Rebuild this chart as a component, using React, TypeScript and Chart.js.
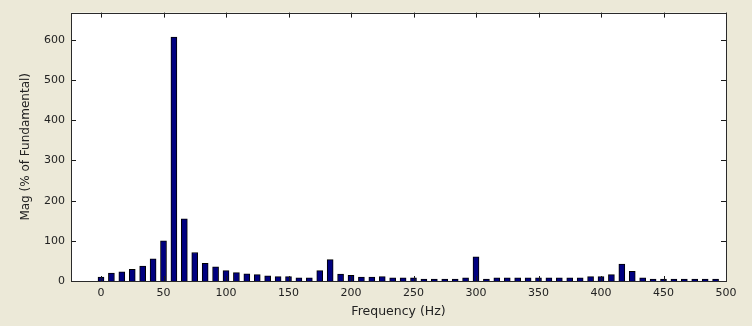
import React, { useEffect, useRef } from "react";
import { Chart, registerables } from "chart.js";

Chart.register(...registerables);

const frequencies: number[] = [
  0, 8.33, 16.67, 25, 33.33, 41.67, 50, 58.33, 66.67, 75,
  83.33, 91.67, 100, 108.33, 116.67, 125, 133.33, 141.67, 150, 158.33,
  166.67, 175, 183.33, 191.67, 200, 208.33, 216.67, 225, 233.33, 241.67,
  250, 258.33, 266.67, 275, 283.33, 291.67, 300, 308.33, 316.67, 325,
  333.33, 341.67, 350, 358.33, 366.67, 375, 383.33, 391.67, 400, 408.33,
  416.67, 425, 433.33, 441.67, 450, 458.33, 466.67, 475, 483.33, 491.67,
];

const magnitudes: number[] = [
  10, 20, 23, 29, 37, 55, 100, 607, 155, 71,
  44, 35, 26, 21, 18, 16, 13, 11, 11, 8,
  8, 26, 53, 17, 14, 10, 10, 11, 8, 8,
  8, 5, 5, 5, 5, 8, 60, 5, 8, 8,
  8, 8, 8, 8, 8, 8, 8, 11, 11, 16,
  42, 24, 8, 5, 5, 5, 5, 5, 5, 5,
];

const xTickValues: number[] = [0, 50, 100, 150, 200, 250, 300, 350, 400, 450, 500];
const yTickValues: number[] = [0, 100, 200, 300, 400, 500, 600];
const xLimits: number[] = [-24, 500];
const yLimits: number[] = [0, 668];

const xTitle = "Frequency (Hz)";
const yTitle = "Mag (% of Fundamental)";

const BG = "#ECE9D8";
const FONT = "'DejaVu Sans', sans-serif";

const framePlugin = {
  id: "matlabFrame",
  beforeDraw(chart: any) {
    const { ctx, chartArea } = chart;
    ctx.save();
    ctx.fillStyle = BG;
    ctx.fillRect(0, 0, chart.width, chart.height);
    ctx.fillStyle = "#ffffff";
    ctx.fillRect(chartArea.left, chartArea.top, chartArea.right - chartArea.left, chartArea.bottom - chartArea.top);
    ctx.restore();
  },
  afterDatasetsDraw(chart: any) {
    const { ctx, chartArea, scales } = chart;
    const { left, right, top, bottom } = chartArea;
    const len = 5;
    ctx.save();
    ctx.strokeStyle = "#1a1a1a";
    ctx.lineWidth = 1;
    ctx.beginPath();
    for (const v of xTickValues) {
      const x = Math.round(scales.x.getPixelForValue(v)) + 0.5;
      ctx.moveTo(x, bottom);
      ctx.lineTo(x, bottom - len);
      ctx.moveTo(x, top);
      ctx.lineTo(x, top + len);
    }
    for (const v of yTickValues) {
      const y = Math.round(scales.y.getPixelForValue(v)) + 0.5;
      ctx.moveTo(left, y);
      ctx.lineTo(left + len, y);
      ctx.moveTo(right, y);
      ctx.lineTo(right - len, y);
    }
    ctx.stroke();
    ctx.strokeStyle = "#2a2a2a";
    ctx.lineWidth = 1;
    ctx.strokeRect(Math.round(left) + 0.5, Math.round(top) + 0.5, Math.round(right - left), Math.round(bottom - top));
    ctx.restore();
  },
};

export default function App() {
  const canvasRef = useRef<HTMLCanvasElement | null>(null);

  useEffect(() => {
    document.body.style.margin = "0";
    const canvas = canvasRef.current;
    if (!canvas) return;
    const chart = new Chart(canvas, {
      type: "bar",
      data: {
        datasets: [
          {
            data: frequencies.map((f, i) => ({ x: f, y: magnitudes[i] })),
            backgroundColor: "#000080",
            borderColor: "#000000",
            borderWidth: 1,
            borderSkipped: "bottom",
            barThickness: 6,
          },
        ],
      },
      options: {
        animation: false,
        responsive: false,
        devicePixelRatio: 1,
        layout: { padding: { left: 0, top: 11, right: 26, bottom: 0 } },
        plugins: {
          legend: { display: false },
          tooltip: { enabled: false },
        },
        scales: {
          x: {
            type: "linear",
            min: xLimits[0],
            max: xLimits[1],
            offset: false,
            grid: { display: false, drawTicks: false },
            border: { display: false },
            afterBuildTicks: (scale: any) => {
              scale.ticks = xTickValues.map((v) => ({ value: v }));
            },
            afterFit: (scale: any) => {
              scale.height = 45;
            },
            ticks: {
              padding: 6,
              color: "#222222",
              font: { family: FONT, size: 11 },
              maxRotation: 0,
              autoSkip: false,
            },
            title: {
              display: true,
              text: xTitle,
              color: "#222222",
              font: { family: FONT, size: 12.5 },
              padding: { top: 0, bottom: 7 },
            },
          },
          y: {
            type: "linear",
            min: yLimits[0],
            max: yLimits[1],
            grid: { display: false, drawTicks: false },
            border: { display: false },
            afterBuildTicks: (scale: any) => {
              scale.ticks = yTickValues.map((v) => ({ value: v }));
            },
            afterFit: (scale: any) => {
              scale.width = 71;
            },
            ticks: {
              padding: 6,
              color: "#222222",
              font: { family: FONT, size: 11 },
              autoSkip: false,
            },
            title: {
              display: true,
              text: yTitle,
              color: "#222222",
              font: { family: FONT, size: 12 },
              padding: { top: 19, bottom: 0 },
            },
          },
        },
      },
      plugins: [framePlugin],
    });
    return () => chart.destroy();
  }, []);

  return (
    <div style={{ width: 752, height: 326, background: BG }}>
      <canvas ref={canvasRef} width={752} height={326} style={{ display: "block" }} />
    </div>
  );
}
